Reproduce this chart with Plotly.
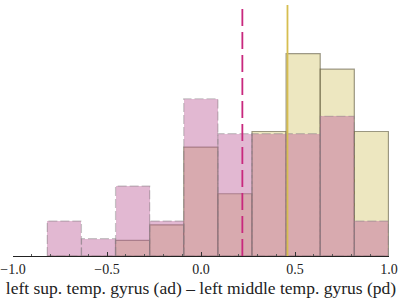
import plotly.graph_objects as go

# Histogram data
bin_start = -0.8175
bin_width = 0.18145
pink_counts = [2, 1, 4, 2, 9, 7, 7, 7, 8, 2]
yellow_counts = [0, 0, 1, 2, 7, 4, 8, 13, 12, 8]
pink_line_x = 0.22
yellow_line_x = 0.46
tick_vals = [-1.0, -0.5, 0.0, 0.5, 1.0]
tick_text = ["\u22121.0", "\u22120.5", "0.0", "0.5", "1.0"]
x_title = "left sup. temp. gyrus (ad) \u2013 left middle temp. gyrus (pd)"

n = len(pink_counts)
edges = [bin_start + i * bin_width for i in range(n + 1)]
centers = [(edges[i] + edges[i + 1]) / 2 for i in range(n)]
pink_p = [c / sum(pink_counts) for c in pink_counts]
yellow_p = [c / sum(yellow_counts) for c in yellow_counts]
ymax = 0.2932

fig = go.Figure()
fig.add_trace(go.Bar(
    x=centers, y=yellow_p, width=bin_width,
    marker=dict(color="rgba(219,207,129,0.5)",
                line=dict(color="rgba(80,75,50,0.55)", width=1.2)),
    hoverinfo="skip"))
fig.add_trace(go.Bar(
    x=centers, y=pink_p, width=bin_width,
    marker=dict(color="rgba(189,94,153,0.44)", line=dict(width=0)),
    hoverinfo="skip"))

# dashed outline for the pink histogram
ox, oy = [], []
for i in range(n):
    if pink_p[i] <= 0:
        continue
    ox += [edges[i], edges[i], edges[i + 1], edges[i + 1], edges[i], None]
    oy += [0, pink_p[i], pink_p[i], 0, 0, None]
fig.add_trace(go.Scatter(x=ox, y=oy, mode="lines",
                         line=dict(color="rgba(140,130,135,0.5)", width=1.2, dash="9px,3px"),
                         hoverinfo="skip"))

fig.add_trace(go.Scatter(x=[pink_line_x, pink_line_x], y=[0, ymax], mode="lines",
                         line=dict(color="rgb(200,40,126)", width=1.8, dash="17px,6px"),
                         hoverinfo="skip"))
fig.add_trace(go.Scatter(x=[yellow_line_x, yellow_line_x], y=[0, ymax], mode="lines",
                         line=dict(color="rgb(214,190,80)", width=1.8),
                         hoverinfo="skip"))

fig.update_layout(
    width=398, height=307,
    margin=dict(l=13, r=9, t=5, b=51, autoexpand=False),
    barmode="overlay", bargap=0,
    showlegend=False,
    plot_bgcolor="white", paper_bgcolor="white",
    font=dict(family="Liberation Serif", size=14, color="#222"),
    xaxis=dict(range=[-1, 1], tickvals=tick_vals, ticktext=tick_text,
               ticks="inside", ticklen=4, tickcolor="#333", tickwidth=1,
               minor=dict(dtick=0.1, ticks="inside", ticklen=2, tickcolor="#555"),
               showline=True, linecolor="#222", linewidth=1,
               showgrid=False, zeroline=False, automargin=False,
               tickfont=dict(size=14),
               title=dict(text=x_title, font=dict(size=17.5), standoff=5)),
    yaxis=dict(range=[0, ymax], visible=False, showgrid=False, zeroline=False,
               automargin=False),
)

fig.write_html("out.html",
               config={"displayModeBar": False, "staticPlot": True},
               post_script="document.body.style.margin='0';document.body.style.overflow='hidden';")
